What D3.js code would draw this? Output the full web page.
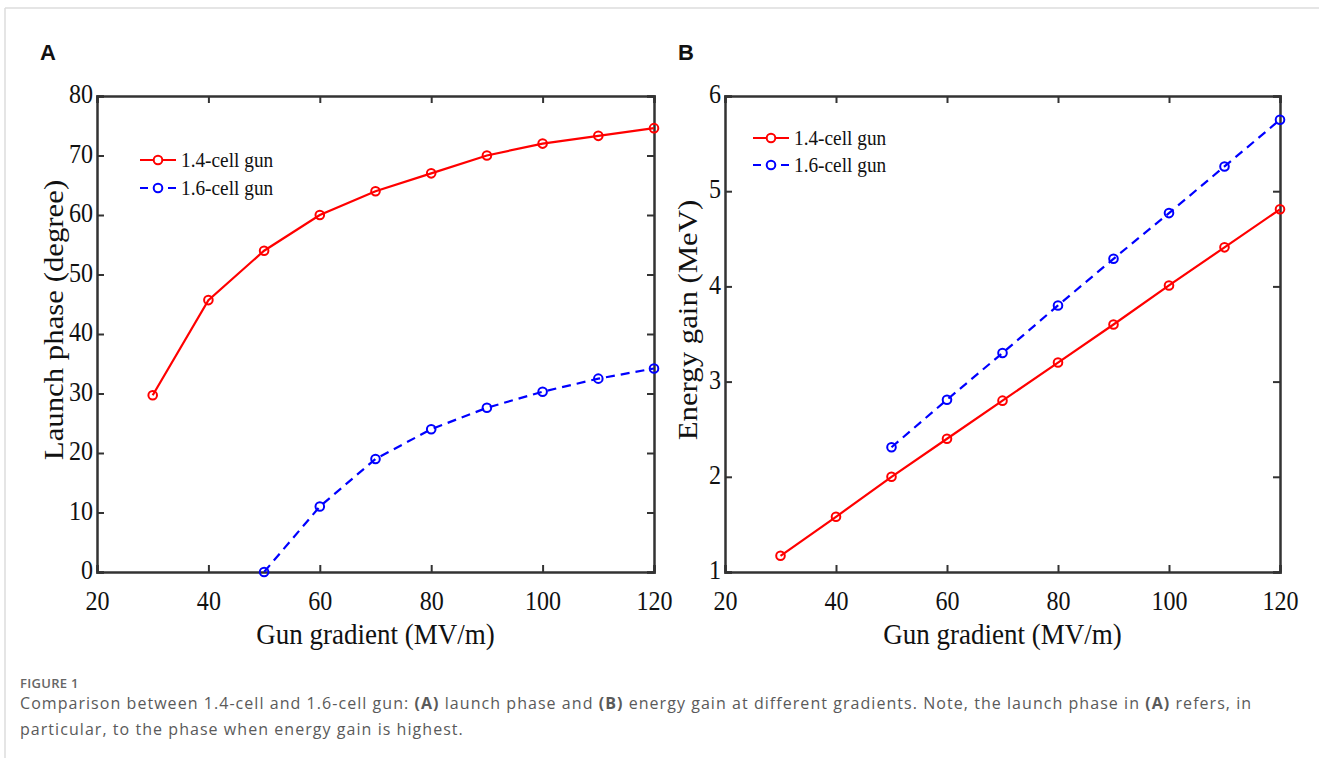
<!DOCTYPE html>
<html><head><meta charset="utf-8">
<script src="https://cdn.jsdelivr.net/npm/d3@7"></script>
<style>
html,body{margin:0;padding:0;background:#fff;}
svg{display:block;}
</style></head>
<body>
<svg id="chart" width="1319" height="758"></svg>
<script>
// ---- data ----
const gradientsA14 = [30, 40, 50, 60, 70, 80, 90, 100, 110, 120];
const phase14 = [29.7, 45.7, 54.0, 60.0, 64.0, 67.0, 70.0, 72.0, 73.3, 74.6];
const gradients16 = [50, 60, 70, 80, 90, 100, 110, 120];
const phase16 = [0, 11.0, 19.0, 24.0, 27.6, 30.3, 32.5, 34.2];
const gradientsB14 = [30, 40, 50, 60, 70, 80, 90, 100, 110, 120];
const energy14 = [1.17, 1.58, 2.0, 2.4, 2.8, 3.2, 3.6, 4.01, 4.41, 4.81];
const energy16 = [2.31, 2.81, 3.3, 3.8, 4.29, 4.77, 5.26, 5.75];
const xTicks = [20, 40, 60, 80, 100, 120];
const yTicksA = [0, 10, 20, 30, 40, 50, 60, 70, 80];
const yTicksB = [1, 2, 3, 4, 5, 6];
const seriesNames = ["1.4-cell gun", "1.6-cell gun"];

const svg = d3.select("#chart");
const serif = "'Liberation Serif', 'Times New Roman', serif";

// outer frame
svg.append("line").attr("x1",5).attr("y1",8).attr("x2",1319).attr("y2",8).attr("stroke","#dcdcdc").attr("stroke-width",1.5);
svg.append("line").attr("x1",5).attr("y1",8).attr("x2",5).attr("y2",758).attr("stroke","#dcdcdc").attr("stroke-width",1.5);

// horizontally condense text elements (narrow Times look)
function condense(sel, sx){
  sel.each(function(){
    const t = d3.select(this);
    const x = +t.attr("x") || 0, y = +t.attr("y") || 0;
    t.attr("x",0).attr("y",0).attr("transform",`translate(${x},${y}) scale(${sx},1)`);
  });
}

function panel(opts){
  const {left,right,top,bottom,ydom,yticks,s1x,s1y,s2x,s2y,ylabel,letter,letterX,legX,legY,legGap,ylabelX,ylabelY} = opts;
  const x = d3.scaleLinear().domain([20,120]).range([left,right]);
  const y = d3.scaleLinear().domain(ydom).range([bottom,top]);
  const g = svg.append("g");
  const axColor = "#333";
  const fmt = d3.format("d");
  const axB = g.append("g").attr("transform",`translate(0,${bottom})`)
    .call(d3.axisBottom(x).tickValues(xTicks).tickSize(-7).tickPadding(18).tickFormat(fmt));
  const axT = g.append("g").attr("transform",`translate(0,${top})`)
    .call(d3.axisTop(x).tickValues(xTicks).tickSize(-7).tickFormat(""));
  const axL = g.append("g").attr("transform",`translate(${left},0)`)
    .call(d3.axisLeft(y).tickValues(yticks).tickSize(-7).tickPadding(3).tickFormat(fmt));
  const axR = g.append("g").attr("transform",`translate(${right},0)`)
    .call(d3.axisRight(y).tickValues(yticks).tickSize(-7).tickFormat(""));
  [axB,axT,axL,axR].forEach(a=>{
    a.select(".domain").attr("stroke",axColor).attr("stroke-width",2.5);
    a.selectAll(".tick line").attr("stroke",axColor).attr("stroke-width",2);
    a.selectAll("text").attr("font-family",serif).attr("font-size",28).attr("fill","#111");
  });
  axB.selectAll("text").attr("dy","0.71em");
  axL.selectAll("text").attr("x",-4).attr("dy","0.24em");
  condense(axB.selectAll("text"),0.86);
  condense(axL.selectAll("text"),0.86);
  // line series
  const line = d3.line().x(d=>x(d[0])).y(d=>y(d[1]));
  const d1 = s1x.map((v,i)=>[v,s1y[i]]);
  const d2 = s2x.map((v,i)=>[v,s2y[i]]);
  g.append("path").datum(d1).attr("d",line).attr("fill","none").attr("stroke","#ff0000").attr("stroke-width",2.2);
  g.append("path").datum(d2).attr("d",line).attr("fill","none").attr("stroke","#0000ff").attr("stroke-width",2.2).attr("stroke-dasharray","9,6");
  g.selectAll(".m1").data(d1).enter().append("circle").attr("cx",d=>x(d[0])).attr("cy",d=>y(d[1])).attr("r",4.3).attr("fill","none").attr("stroke","#ff0000").attr("stroke-width",2);
  g.selectAll(".m2").data(d2).enter().append("circle").attr("cx",d=>x(d[0])).attr("cy",d=>y(d[1])).attr("r",4.3).attr("fill","none").attr("stroke","#0000ff").attr("stroke-width",2);
  // axis titles
  g.append("text").attr("transform",`translate(${(left+right)/2},${bottom+72}) scale(0.9,1)`).attr("text-anchor","middle")
    .attr("font-family",serif).attr("font-size",30).attr("fill","#111").text("Gun gradient (MV/m)");
  g.append("text").attr("transform",`translate(${ylabelX},${ylabelY}) rotate(-90) scale(1.1,1)`).attr("text-anchor","middle")
    .attr("font-family",serif).attr("font-size",28).attr("fill","#111").text(ylabel);
  // legend
  const cols = ["#ff0000","#0000ff"];
  seriesNames.forEach((nm,i)=>{
    const yy = legY + i*legGap;
    g.append("line").attr("x1",legX).attr("x2",legX+36).attr("y1",yy).attr("y2",yy)
      .attr("stroke",cols[i]).attr("stroke-width",2.2).attr("stroke-dasharray", i===1?"8,6":null);
    g.append("circle").attr("cx",legX+18).attr("cy",yy).attr("r",4.3).attr("fill","#fff").attr("stroke",cols[i]).attr("stroke-width",2);
    g.append("text").attr("transform",`translate(${legX+41},${yy}) scale(0.92,1)`).attr("dy","0.35em")
      .attr("font-family",serif).attr("font-size",21).attr("fill","#111").text(nm);
  });
  // panel letter
  svg.append("text").attr("x",letterX).attr("y",60).attr("font-family","'Liberation Sans', Arial, sans-serif")
    .attr("font-weight","bold").attr("font-size",22).attr("fill","#111").text(letter);
}

panel({left:97,right:654,top:96,bottom:572,ydom:[0,80],yticks:yTicksA,
  s1x:gradientsA14,s1y:phase14,s2x:gradients16,s2y:phase16,
  ylabel:"Launch phase (degree)",letter:"A",letterX:40,legX:140,legY:160,legGap:28,ylabelX:63,ylabelY:320});
panel({left:725,right:1280,top:96,bottom:572,ydom:[1,6],yticks:yTicksB,
  s1x:gradientsB14,s1y:energy14,s2x:gradients16,s2y:energy16,
  ylabel:"Energy gain (MeV)",letter:"B",letterX:678,legX:753,legY:138,legGap:27,ylabelX:697,ylabelY:320});

// caption
const cap = "'Open Sans', 'Noto Sans', sans-serif";
svg.append("text").attr("x",20).attr("y",688).attr("font-family",cap).attr("font-size",13).attr("font-weight",600).attr("letter-spacing",0.3).attr("fill","#666").text("FIGURE 1");
const c1 = svg.append("text").attr("x",20).attr("y",709).attr("font-family",cap).attr("font-size",16).attr("letter-spacing",1.05).attr("fill","#5a5a5a");
c1.append("tspan").text("Comparison between 1.4-cell and 1.6-cell gun: ");
c1.append("tspan").attr("font-weight","bold").text("(A)");
c1.append("tspan").text(" launch phase and ");
c1.append("tspan").attr("font-weight","bold").text("(B)");
c1.append("tspan").text(" energy gain at different gradients. Note, the launch phase in ");
c1.append("tspan").attr("font-weight","bold").text("(A)");
c1.append("tspan").text(" refers, in");
svg.append("text").attr("x",20).attr("y",735).attr("font-family",cap).attr("font-size",16).attr("letter-spacing",1.05).attr("fill","#5a5a5a")
  .text("particular, to the phase when energy gain is highest.");
</script>
</body></html>
